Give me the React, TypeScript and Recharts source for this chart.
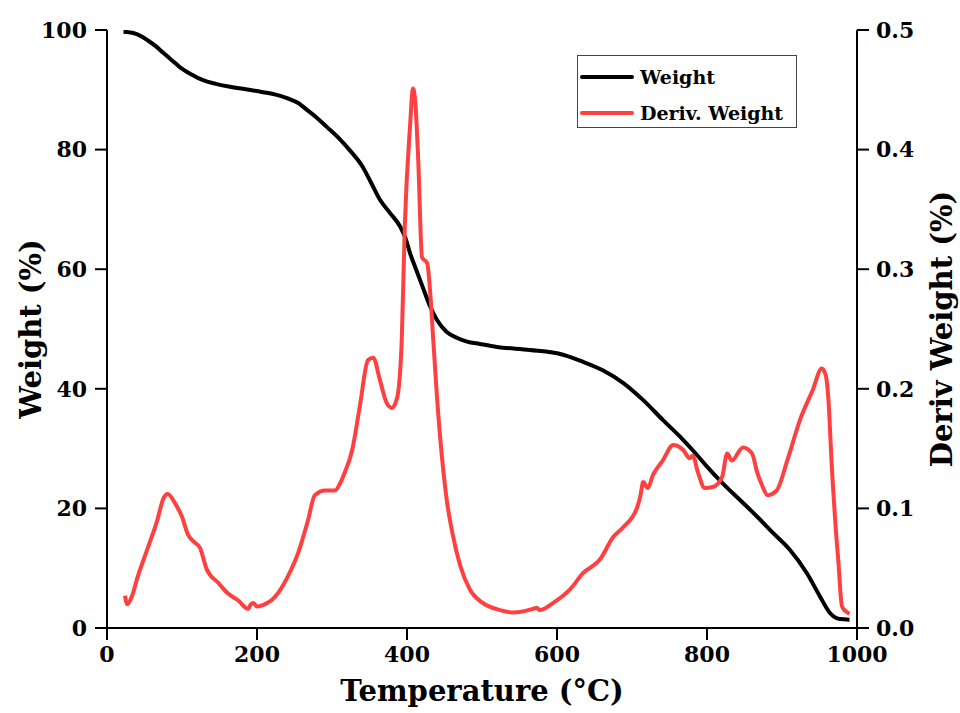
import React from "react";
import {
  LineChart,
  Line,
  XAxis,
  YAxis,
  Legend,
} from "recharts";

// weight curve (°C, %)
const weightTemps = [
  22, 35, 45, 55, 65, 75, 86, 97, 112, 128, 145, 164, 185, 208, 225, 240, 255,
  267, 280, 293, 310, 325, 341, 352, 364, 378, 391, 398, 404, 412, 421, 430,
  440, 453, 467, 480, 497, 520, 564, 608, 635, 661, 688, 715, 741, 764, 784,
  800, 821, 844, 867, 888, 911, 933, 951, 964, 977, 990,
];
const weightValues = [
  99.7, 99.5, 99.0, 98.2, 97.3, 96.2, 95.0, 93.8, 92.6, 91.6, 91.0, 90.5, 90.1,
  89.6, 89.2, 88.6, 87.8, 86.6, 85.3, 83.8, 81.8, 79.7, 77.1, 74.5, 71.6, 69.3,
  67.1, 65.2, 62.7, 60.0, 57.0, 54.0, 51.5, 49.5, 48.5, 47.9, 47.5, 47.0, 46.5,
  45.7, 44.5, 43.1, 41.0, 38.1, 34.8, 32.0, 29.3, 27.0, 24.2, 21.4, 18.6, 15.9,
  13.0, 9.2, 5.2, 2.5, 1.5, 1.4,
];

// derivative curve (°C, %/°C)
const derivTemps = [
  24, 27, 33, 41, 55, 67, 75, 81, 91, 100, 108, 116, 124, 133, 148, 161, 175,
  188, 192, 195, 200, 207, 224, 241, 255, 268, 277, 291, 304, 310, 317, 327,
  337, 348, 355, 364, 373, 380, 387, 393, 397, 404, 408, 411, 415, 420, 427,
  431, 435, 440, 453, 461, 471, 484, 501, 524, 541, 568, 573, 577, 595, 617,
  635, 657, 675, 688, 707, 711, 715, 721, 728, 741, 755, 768, 777, 781, 788,
  797, 808, 820, 827, 833, 848, 860, 867, 873, 881, 893, 907, 924, 941, 953,
  958, 962, 966, 968, 972, 975, 980, 987, 990,
];
const derivValues = [
  0.027, 0.02, 0.026, 0.043, 0.068, 0.09, 0.108, 0.112, 0.104, 0.093, 0.078,
  0.072, 0.067, 0.049, 0.038, 0.029, 0.023, 0.016, 0.02, 0.021, 0.018, 0.019,
  0.026, 0.043, 0.063, 0.09, 0.111, 0.115, 0.115, 0.12, 0.13, 0.149, 0.185,
  0.224, 0.226, 0.207, 0.188, 0.184, 0.193, 0.241, 0.335, 0.419, 0.451, 0.44,
  0.391, 0.31, 0.305, 0.28, 0.241, 0.193, 0.107, 0.078, 0.052, 0.032, 0.021,
  0.015, 0.013, 0.016, 0.017, 0.015, 0.021, 0.032, 0.046, 0.057, 0.076, 0.084,
  0.101, 0.11, 0.122, 0.117, 0.128, 0.14, 0.153, 0.149, 0.142, 0.144, 0.13,
  0.117, 0.118, 0.126, 0.146, 0.14, 0.151, 0.146, 0.13, 0.12, 0.111, 0.115,
  0.14, 0.174, 0.199, 0.217, 0.212, 0.19, 0.14, 0.118, 0.08, 0.057, 0.018,
  0.013, 0.012,
];

const xTicks = [0, 200, 400, 600, 800, 1000];
const leftTicks = [0, 20, 40, 60, 80, 100];
const rightTicks = [0, 0.1, 0.2, 0.3, 0.4, 0.5];

const weightData = weightTemps.map((t, i) => ({ t, w: weightValues[i] }));
const derivData = derivTemps.map((t, i) => ({ t, d: derivValues[i] }));

const FONT = "'DejaVu Serif', serif";
const tickStyle = { fontFamily: FONT, fontWeight: 700, fontSize: 22, fill: "#000" };
const axisLine = { stroke: "#000", strokeWidth: 2 };

const legendItems = [
  { name: "Weight", color: "#000" },
  { name: "Deriv. Weight", color: "#ff4040" },
];

const LegendBox = () => (
  <div
    style={{
      border: "1px solid #444",
      width: 220,
      height: 73,
      background: "#fff",
      boxSizing: "border-box",
      padding: "3px 0 0 2px",
    }}
  >
    {legendItems.map((it) => (
      <div
        key={it.name}
        style={{ display: "flex", alignItems: "center", height: 36 }}
      >
        <div
          style={{
            width: 54,
            height: 4,
            borderRadius: 2,
            background: it.color,
            marginRight: 6,
          }}
        />
        <span
          style={{
            fontFamily: FONT,
            fontWeight: 700,
            fontSize: 19,
            color: "#000",
          }}
        >
          {it.name}
        </span>
      </div>
    ))}
  </div>
);

const vLabel = (text: string, x: number) => (props: any) => {
  const vb = props.viewBox;
  const cy = vb.y + vb.height / 2;
  return (
    <text
      x={x}
      y={cy}
      transform={`rotate(-90 ${x} ${cy})`}
      textAnchor="middle"
      dominantBaseline="central"
      fontFamily={FONT}
      fontWeight={700}
      fontSize={29}
      fill="#000"
    >
      {text}
    </text>
  );
};

const xLabel = (props: any) => {
  const vb = props.viewBox;
  return (
    <text
      x={vb.x + vb.width / 2}
      y={701}
      textAnchor="middle"
      fontFamily={FONT}
      fontWeight={700}
      fontSize={29}
      fill="#000"
    >
      Temperature (°C)
    </text>
  );
};

export default function App() {
  return (
    <div style={{ position: "absolute", left: 0, top: 0, background: "#fff" }}>
      <LineChart
        width={960}
        height={713}
        margin={{ top: 30, right: 0, bottom: 0, left: 0 }}
      >
        <XAxis
          xAxisId="b"
          type="number"
          dataKey="t"
          domain={[0, 1000]}
          ticks={xTicks}
          tick={tickStyle}
          tickSize={12}
          tickMargin={6}
          height={85}
          axisLine={axisLine}
          tickLine={axisLine}
          allowDataOverflow
          label={xLabel}
        />
        <XAxis
          xAxisId="top"
          orientation="top"
          type="number"
          domain={[0, 1000]}
          tick={false}
          tickLine={false}
          height={0}
          axisLine={axisLine}
        />
        <YAxis
          yAxisId="w"
          domain={[0, 100]}
          ticks={leftTicks}
          tick={tickStyle}
          tickSize={12}
          tickMargin={8}
          width={107}
          axisLine={axisLine}
          tickLine={axisLine}
          allowDataOverflow
          label={vLabel("Weight (%)", 31)}
        />
        <YAxis
          yAxisId="d"
          orientation="right"
          domain={[0, 0.5]}
          ticks={rightTicks}
          tickFormatter={(v: number) => v.toFixed(1)}
          tick={tickStyle}
          tickSize={12}
          tickMargin={7}
          width={103}
          axisLine={axisLine}
          tickLine={axisLine}
          allowDataOverflow
          label={vLabel("Deriv Weight (%)", 942)}
        />
        <Legend
          layout="vertical"
          align="center"
          verticalAlign="middle"
          wrapperStyle={{ left: 577, top: 55, width: 222 }}
          content={() => <LegendBox />}
        />
        <Line
          xAxisId="b"
          yAxisId="w"
          data={weightData}
          dataKey="w"
          type="monotone"
          stroke="#000"
          strokeWidth={4}
          dot={false}
          isAnimationActive={false}
        />
        <Line
          xAxisId="b"
          yAxisId="d"
          data={derivData}
          dataKey="d"
          type="monotone"
          stroke="#ff4040"
          strokeWidth={4}
          dot={false}
          isAnimationActive={false}
        />
      </LineChart>
    </div>
  );
}
